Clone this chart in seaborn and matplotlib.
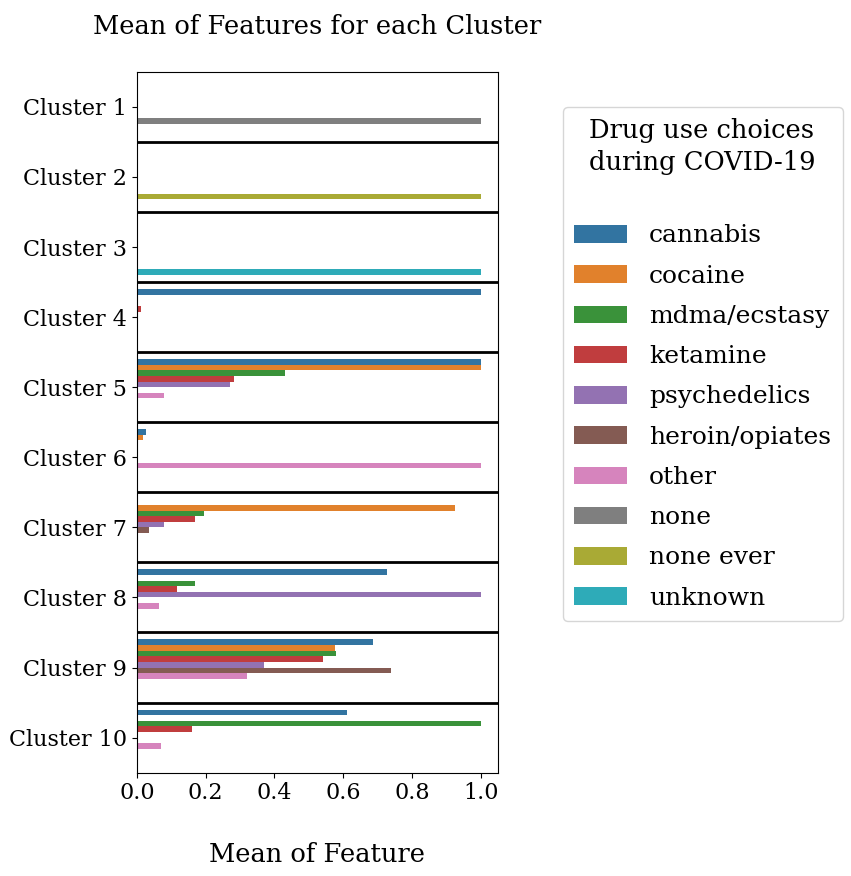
import pandas as pd
import numpy as np
import seaborn as sns
import matplotlib.pyplot as plt

plt.rcParams['font.family'] = ['DejaVu Serif']

# Cluster labels and the drug features (hue order)
clusters = [f'Cluster {i}' for i in range(1, 11)]
features = ['cannabis', 'cocaine', 'mdma/ecstasy', 'ketamine', 'psychedelics',
            'heroin/opiates', 'other', 'none', 'none ever', 'unknown']

# Mean of each feature per cluster (Cluster 1 ... Cluster 10)
cannabis       = [0, 0, 0, 1.0, 1.0, 0.026, 0, 0.728, 0.686, 0.610]
cocaine        = [0, 0, 0, 0, 1.0, 0.017, 0.924, 0, 0.577, 0]
mdma_ecstasy   = [0, 0, 0, 0, 0.431, 0, 0.195, 0.169, 0.578, 1.0]
ketamine       = [0, 0, 0, 0.012, 0.281, 0, 0.168, 0.117, 0.540, 0.159]
psychedelics   = [0, 0, 0, 0, 0.271, 0, 0.079, 1.0, 0.370, 0]
heroin_opiates = [0, 0, 0, 0, 0, 0, 0.036, 0, 0.738, 0]
other          = [0, 0, 0, 0, 0.079, 1.0, 0, 0.065, 0.319, 0.070]
none           = [1.0, 0, 0, 0, 0, 0, 0, 0, 0, 0]
none_ever      = [0, 1.0, 0, 0, 0, 0, 0, 0, 0, 0]
unknown        = [0, 0, 1.0, 0, 0, 0, 0, 0, 0, 0]

series = [cannabis, cocaine, mdma_ecstasy, ketamine, psychedelics,
          heroin_opiates, other, none, none_ever, unknown]

rows = []
for feat, vals in zip(features, series):
    for cl, v in zip(clusters, vals):
        rows.append({'cluster': cl, 'feature': feat, 'mean': v})
df = pd.DataFrame(rows)

fig = plt.figure(figsize=(8.51, 8.76), dpi=100)
ax = fig.add_axes([0.161, 0.118, 0.424, 0.800])

sns.barplot(data=df, y='cluster', x='mean', hue='feature', order=clusters,
            hue_order=features, orient='h', ax=ax)

# separators between clusters
for i in range(len(clusters) - 1):
    ax.axhline(i + 0.5, color='black', linewidth=2)

ax.set_ylim(len(clusters) - 0.5, -0.5)
ax.set_xlim(0, 1.05)
ax.set_xticks([0.0, 0.2, 0.4, 0.6, 0.8, 1.0])
ax.set_ylabel('')
ax.set_xlabel('Mean of Feature', fontsize=18.5, labelpad=27)
ax.set_title('Mean of Features for each Cluster', fontsize=18.5, pad=27)
ax.tick_params(labelsize=16)

leg = ax.legend(title='Drug use choices\nduring COVID-19\n', loc='upper left',
                bbox_to_anchor=(563 / 851, 1 - 107 / 876), bbox_transform=fig.transFigure,
                borderaxespad=0,
                fontsize=18, title_fontsize=18.5, handlelength=2.1, handleheight=0.7,
                labelspacing=0.69, handletextpad=0.9, borderpad=0.45)
leg.get_title().set_linespacing(1.35)

plt.savefig('out.png', dpi=100)
